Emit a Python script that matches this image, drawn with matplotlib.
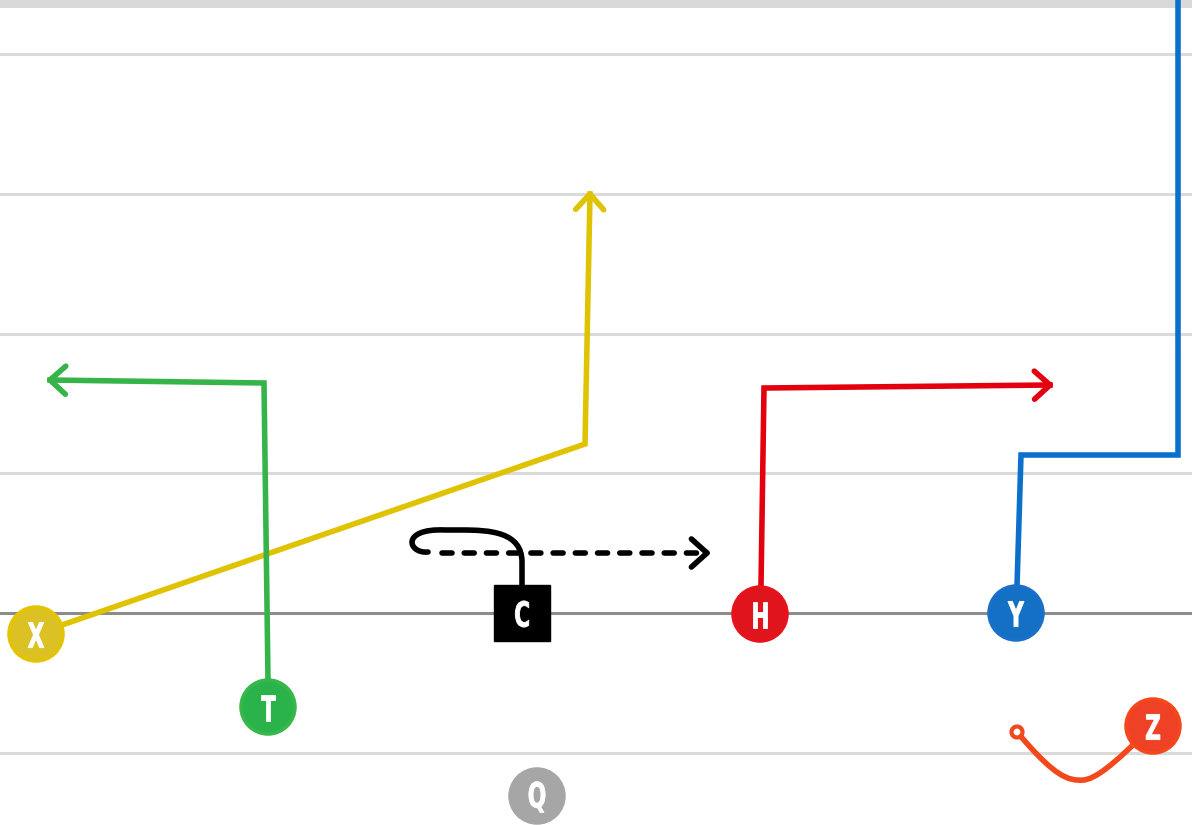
import numpy as np
import matplotlib
matplotlib.use("Agg")
import matplotlib.pyplot as plt
from matplotlib.patches import Circle, Rectangle, PathPatch
from matplotlib.path import Path
from matplotlib.textpath import TextPath
from matplotlib.font_manager import FontProperties
from matplotlib.transforms import Affine2D

W, H = 1192, 825
LW = 4.0

# field lines (y in pixels from top)
yard_lines = [54, 194, 334, 473, 753]
scrimmage_y = 613

# players
names = ["X", "T", "C", "H", "Y", "Z", "Q"]
px = [36, 268, 522, 760, 1016, 1153, 537]
py = [634, 707, 613, 614, 613, 726, 796]
fills = ["#dcc124", "#2bb34b", "#000000", "#e0141c", "#1370c4", "#ee4125", "#a6a6a6"]
edges = ["#e2c400", "#36b84a", "#000000", "#e6131a", "#1a6fc8", "#f4481c", "#a6a6a6"]

# routes: straight segments ending with a chevron
x_route = [(36, 634), (585, 444), (590, 194)]
t_route = [(268, 680), (264, 383), (50, 380)]
h_route = [(761, 586), (764, 388), (1050, 385)]
y_route = [(1017, 586), (1021, 455), (1178, 455), (1178, -10)]
route_colors = {"X": "#e0c300", "T": "#36b44a", "H": "#e3000f", "Y": "#0a70cc",
                "C": "#000000", "Z": "#f2481c"}

# center motion: solid curl then dashed arrow
c_curl = [(522, 585), (522, 562), (522, 532), (490, 530), (462, 530),
          (445, 530), (400, 528), (408, 554), (428, 552)]
c_dash = [(442, 553), (707, 553)]

# Z route: curve from Z down and back up to a small circle
z_curve = [(1135, 743), (1105, 772), (1090, 782), (1078, 780),
           (1062, 780), (1045, 765), (1017, 732)]


def chevron(ax, p0, p1, color, size=21, ang=42):
    d = np.array(p1, float) - np.array(p0, float)
    d /= np.linalg.norm(d)
    for s in (1, -1):
        a = np.deg2rad(ang * s)
        r = np.array([[np.cos(a), -np.sin(a)], [np.sin(a), np.cos(a)]])
        v = r @ (-d) * size
        ax.plot([p1[0], p1[0] + v[0]], [p1[1], p1[1] + v[1]], color=color,
                lw=LW, solid_capstyle="round", solid_joinstyle="round", zorder=3)


def label(ax, x, y, s):
    # condensed bold letter drawn as a path, squeezed horizontally
    tp = TextPath((0, 0), s, size=34, prop=FontProperties(family="DejaVu Sans", weight="bold"))
    ext = tp.get_extents()
    cx = (ext.x0 + ext.x1) / 2
    cy = (ext.y0 + ext.y1) / 2
    tr = Affine2D().translate(-cx, -cy).scale(0.64, -1.02).translate(x, y)
    ax.add_patch(PathPatch(tr.transform_path(tp), fc="white", ec="white", lw=0.6, zorder=6))


fig = plt.figure(figsize=(W / 100, H / 100), dpi=100)
ax = fig.add_axes([0, 0, 1, 1])
ax.set_xlim(0, W)
ax.set_ylim(H, 0)
ax.axis("off")

ax.add_patch(Rectangle((0, 0), W, 8, color="#d9d9d9", lw=0, zorder=1))
for y in yard_lines:
    ax.plot([0, W], [y, y], color="#dadada", lw=2.2, zorder=1)
ax.plot([0, W], [scrimmage_y, scrimmage_y], color="#8c8c8c", lw=2.2, zorder=1)

for key, pts in [("X", x_route), ("T", t_route), ("H", h_route), ("Y", y_route)]:
    xs, ys = zip(*pts)
    ax.plot(xs, ys, color=route_colors[key], lw=LW, solid_joinstyle="miter", zorder=3)
    if key != "Y":
        chevron(ax, pts[-2], pts[-1], route_colors[key])

codes = [Path.MOVETO, Path.LINETO] + [Path.CURVE4] * 3 + [Path.LINETO] + [Path.CURVE4] * 3
ax.add_patch(PathPatch(Path(c_curl, codes), fill=False, ec="black", lw=LW,
                       capstyle="round", zorder=3))
xs, ys = zip(*c_dash)
ax.plot(xs[:1] + (xs[1] - 8,), ys, color="black", lw=LW, dashes=(1.8, 2.2),
        dash_capstyle="round", zorder=3)
chevron(ax, c_dash[0], c_dash[1], "black")

zcodes = [Path.MOVETO] + [Path.CURVE4] * 6
ax.add_patch(PathPatch(Path(z_curve, zcodes), fill=False, ec=route_colors["Z"], lw=LW, zorder=3))
ax.add_patch(Circle(z_curve[-1], 5.5, fc="white", ec=route_colors["Z"], lw=3, zorder=4))

for n, x, y, fc, ec in zip(names, px, py, fills, edges):
    if n == "C":
        ax.add_patch(Rectangle((x - 28, y - 28), 56, 56, fc=fc, ec=ec, zorder=5))
    else:
        ax.add_patch(Circle((x, y), 27, fc=fc, ec=ec, lw=2.5, zorder=5))
    label(ax, x, y + 1, n)

fig.savefig("out.png", dpi=100)
